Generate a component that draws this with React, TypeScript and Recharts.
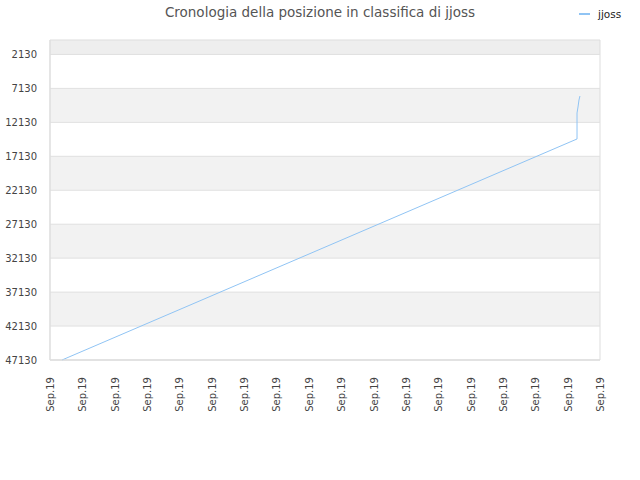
import React from "react";
import {
  LineChart,
  Line,
  XAxis,
  YAxis,
  ReferenceArea,
  ReferenceLine,
} from "recharts";

const xTickPositions = [0, 1, 2, 3, 4, 5, 6, 7, 8, 9, 10, 11, 12, 13, 14, 15, 16, 17];
const xTickLabel = "Sep.19";
const yTicks = [2130, 7130, 12130, 17130, 22130, 27130, 32130, 37130, 42130, 47130];
const bandEdges = [1, 2130, 7130, 12130, 17130, 22130, 27130, 32130, 37130, 42130, 47130];
const bandFills = ["#eeeeee", "#ffffff", "#f2f2f2", "#ffffff", "#f2f2f2", "#ffffff", "#f2f2f2", "#ffffff", "#f2f2f2", "#ffffff"];

const positions = [0.37, 16.29, 16.29, 16.32, 16.35, 16.38];
const ranks = [47130, 14580, 10750, 9870, 8840, 8250];

const data = positions.map((p, i) => ({ t: p, rank: ranks[i] }));

const LINE_COLOR = "#90c4f4";
const TEXT_COLOR = "#444444";
const FONT = "DejaVu Sans, sans-serif";

const XTick = (props: any) => {
  const { x, y } = props;
  return (
    <text
      x={0}
      y={0}
      transform={`translate(${x + 4},${y + 9}) rotate(-90)`}
      textAnchor="end"
      fontSize={10}
      fill={TEXT_COLOR}
      fontFamily={FONT}
    >
      {xTickLabel}
    </text>
  );
};

const YTick = (props: any) => {
  const { x, y, payload } = props;
  return (
    <text
      x={x - 5}
      y={y + 4}
      textAnchor="end"
      fontSize={10}
      fill={TEXT_COLOR}
      fontFamily={FONT}
    >
      {payload.value}
    </text>
  );
};

export default function App() {
  return (
    <div style={{ position: "absolute", left: 0, top: 0, width: 640, height: 480, background: "#fff", fontFamily: FONT }}>
      <div
        style={{
          position: "absolute",
          left: 0,
          top: 4,
          width: 640,
          textAlign: "center",
          fontSize: 13.5,
          color: "#555555",
          fontFamily: FONT,
        }}
      >
        Cronologia della posizione in classifica di jjoss
      </div>
      <div style={{ position: "absolute", left: 579, top: 8, display: "flex", alignItems: "center" }}>
        <div style={{ width: 11, height: 2, background: LINE_COLOR, marginRight: 8 }} />
        <span style={{ fontSize: 10.5, color: "#222", fontFamily: FONT }}>jjoss</span>
      </div>
      <LineChart
        width={640}
        height={480}
        data={data}
        margin={{ top: 40, right: 40, left: 0, bottom: 0 }}
      >
        {bandFills.map((f, i) => (
          <ReferenceArea
            key={"b" + i}
            y1={bandEdges[i]}
            y2={bandEdges[i + 1]}
            fill={f}
            fillOpacity={1}
            stroke="none"
            ifOverflow="visible"
          />
        ))}
        {yTicks.map((v) => (
          <ReferenceLine key={"g" + v} y={v} stroke="#e0e0e0" ifOverflow="visible" />
        ))}
        <ReferenceArea
          y1={1}
          y2={47130}
          fill="none"
          stroke="#dddddd"
          ifOverflow="visible"
        />
        <XAxis
          dataKey="t"
          type="number"
          domain={[0, 17]}
          ticks={xTickPositions}
          interval={0}
          height={120}
          tickLine={false}
          axisLine={{ stroke: "#dddddd" }}
          tick={<XTick />}
        />
        <YAxis
          type="number"
          reversed
          domain={[1, 47130]}
          ticks={yTicks}
          interval={0}
          width={50}
          tickLine={false}
          axisLine={{ stroke: "#dddddd" }}
          tick={<YTick />}
        />
        <Line
          type="linear"
          dataKey="rank"
          stroke={LINE_COLOR}
          strokeWidth={1}
          dot={false}
          isAnimationActive={false}
        />
      </LineChart>
    </div>
  );
}
